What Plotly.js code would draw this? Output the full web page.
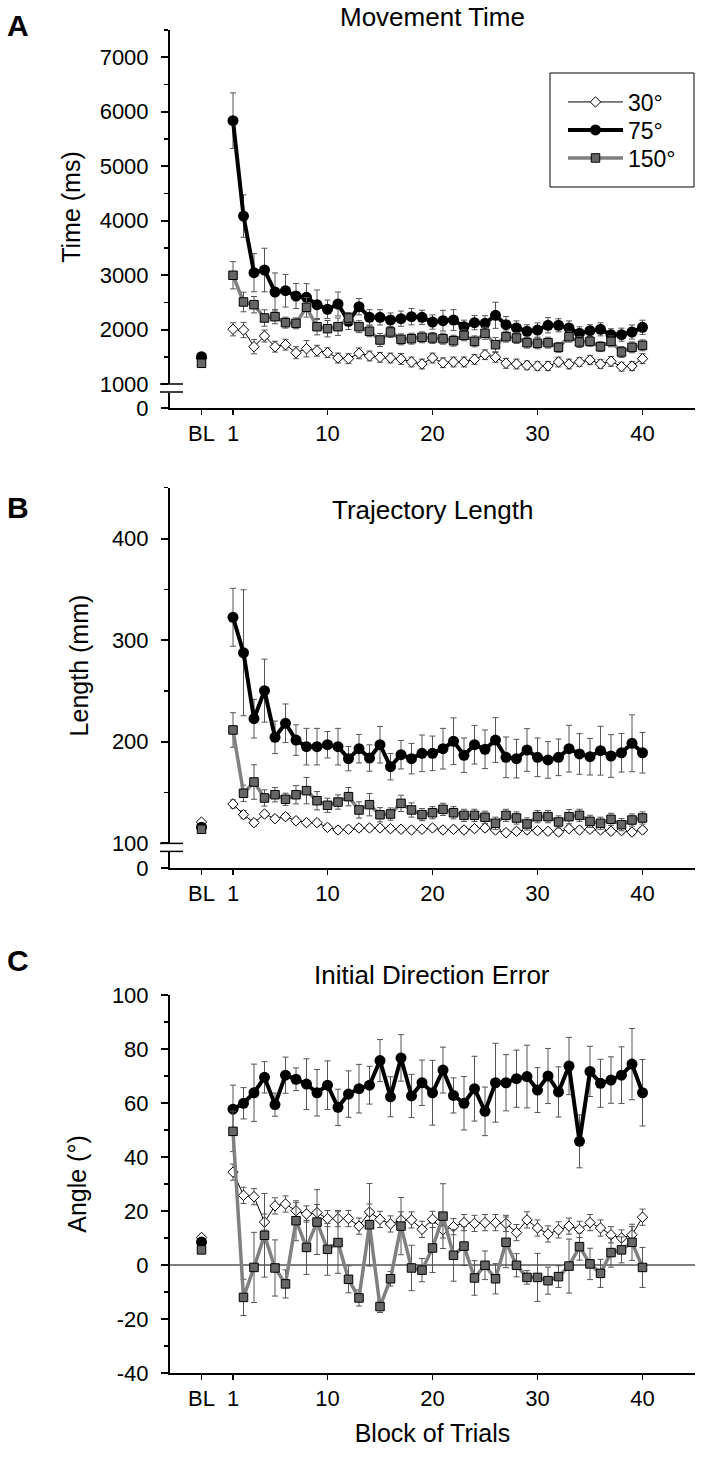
<!DOCTYPE html>
<html>
<head>
<meta charset="utf-8">
<script src="https://cdn.plot.ly/plotly-3.0.1.min.js"></script>
<style>html,body{margin:0;padding:0;background:#fff;}#chart{width:703px;height:1461px;}</style>
</head>
<body>
<div id="chart"></div>
<script>
// ---------------- DATA ----------------
const blocks = [1,2,3,4,5,6,7,8,9,10,11,12,13,14,15,16,17,18,19,20,21,22,23,24,25,26,27,28,29,30,31,32,33,34,35,36,37,38,39,40];
const xTickLabels = ['BL','1','10','20','30','40'];
const seriesNames = ['30°','75°','150°'];
const angleTickLabels = ['-40','-20','0','20','40','60','80','100'];

// Panel A: Movement Time (ms)
const time30 = [2004,1991,1685,1881,1685,1722,1575,1648,1611,1575,1477,1465,1563,1514,1490,1477,1460,1404,1367,1477,1391,1404,1404,1453,1538,1490,1380,1367,1343,1330,1330,1404,1367,1404,1441,1367,1416,1318,1330,1465];
const time30Err = [120,140,130,110,100,100,110,150,100,90,90,90,100,90,90,90,100,90,90,90,90,90,90,90,90,90,90,90,80,80,80,90,90,80,80,80,90,80,80,90];
const time75 = [5835,4084,3044,3093,2689,2713,2616,2592,2456,2371,2469,2151,2420,2224,2224,2175,2200,2236,2224,2138,2163,2175,2052,2126,2114,2261,2090,2028,1968,1991,2078,2078,2028,1931,1979,2004,1905,1905,1955,2041];
const time75Err = [510,390,350,400,350,300,230,250,270,170,220,150,150,140,140,130,140,150,130,130,190,190,120,130,140,240,150,130,120,130,140,120,130,120,110,120,110,120,130,130];
const time150 = [2996,2506,2456,2212,2236,2126,2114,2408,2052,2016,2052,2212,2052,1968,1808,1955,1820,1832,1857,1845,1832,1795,1894,1783,1931,1722,1869,1845,1759,1747,1759,1673,1869,1771,1783,1685,1783,1588,1673,1710];
const time150Err = [250,180,150,150,130,100,100,180,150,150,160,100,110,100,120,100,100,100,100,100,100,100,100,100,110,130,100,100,100,100,100,90,100,100,90,90,100,100,100,100];
const timeBL = [1470,1501,1380];

// Panel B: Trajectory Length (mm)
const len30 = [138.8,128.3,120.4,128.9,124.3,126.3,122.3,120.4,120.4,115.8,113.2,113.9,115.2,115.2,115.2,114.5,113.9,113.2,113.9,115.2,113.2,113.9,113.2,114.5,115.2,113.2,110.6,111.9,113.2,112.5,111.9,111.2,114.5,113.2,113.9,113.2,111.9,112.5,111.2,113.2];
const len30Err = [4,4,3,3,3,3,3,3,3,3,3,3,3,3,3,3,3,3,3,3,3,3,3,3,3,3,3,3,3,3,3,3,3,3,3,3,3,3,3,3];
const len75 = [322.5,287.6,222.7,250.3,204.4,218.2,201.7,195.2,195.2,197.1,195.2,183.4,193.2,184.0,197.1,175.5,187.3,183.4,188.6,188.6,193.2,200.5,186.7,197.1,192.6,201.7,184.7,183.4,191.9,184.7,182.1,184.7,193.2,188.0,185.3,191.2,186.0,189.2,198.5,189.2];
const len75Err = [28.5,62,19,31,16,19,15,18,18,13,18,12,14,13,18,13,14,15,18,17,20,23,17,19,19,22,20,19,21,19,18,18,23,20,18,24,21,19,28,20];
const len150 = [211.6,149.3,160.4,144.7,147.9,143.4,147.9,151.9,142.0,137.5,140.7,146.0,132.9,138.1,128.2,128.9,139.4,132.9,128.3,130.2,133.5,130.2,127.6,127.6,125.7,119.8,127.6,125.0,119.1,126.3,126.3,121.1,126.3,127.6,121.7,119.8,123.7,118.4,123.0,125.0];
const len150Err = [17,8,17,8,7,6,9,13,9,7,7,9,8,11,7,6,8,7,6,6,6,6,6,6,6,6,6,6,6,6,6,6,7,6,6,6,6,6,6,6];
const lenBL = [121,116,113.9];

// Panel C: Initial Direction Error (deg)
const ang30 = [34.4,25.8,25.3,15.9,21.9,22.6,20.1,18.9,19.4,17.2,17.2,17.2,14.4,19.6,16.9,15.2,16.7,16.7,13.2,16.9,13.0,14.2,15.7,15.4,15.7,15.7,15.4,12.0,16.7,13.7,11.5,13.0,14.4,13.2,15.7,13.7,11.2,10.0,11.2,17.7];
const ang30Err = [3,3,3,3,3,3,3,3,3,3,3,3,3,3,3,3,3,3,3,3,3,3,3,3,3,3,3,3,3,3,3,3,3,3,3,3,3,3,3,3];
const ang75 = [57.7,59.9,63.8,69.5,59.4,70.3,68.8,67.0,63.8,66.6,58.4,63.3,65.3,66.6,75.7,62.3,76.7,62.6,67.5,63.8,72.2,62.8,59.9,65.3,56.9,67.5,67.5,69.0,69.8,64.8,70.0,64.1,73.7,45.8,71.7,67.3,68.5,70.3,74.4,63.8];
const ang75Err = [8.9,5.8,10.6,5.8,4.3,6.7,4.2,9.4,8.6,9.0,6.7,8.6,9.0,7.0,7.8,7.4,8.6,8.0,8.4,12,8.5,6.5,9.9,12,9,14.6,10.4,10.6,11.6,8.3,10.2,9.3,10.6,9.8,9.3,8.9,8.6,10.5,13.2,12.3];
const ang150 = [49.5,-12.0,-0.9,11.0,-1.1,-7.0,16.4,6.5,15.9,5.8,8.3,-5.3,-12.2,14.9,-15.4,-5.1,14.4,-1.1,-1.9,6.3,18.1,3.6,7.0,-4.8,-0.1,-5.1,8.4,-0.1,-4.6,-4.6,-5.8,-4.3,-0.4,6.8,0.4,-3.1,4.6,5.6,8.4,-0.9];
const ang150Err = [7.5,6.7,13,15.5,10.4,5.2,7.4,10,12,9.6,11.4,5,3,15.3,2.2,2.7,10.6,8.4,4.3,9.1,12,9.6,7.2,6.4,5.3,5.6,9.4,4.3,2.5,8.9,5,4,10,5,5.8,5.2,5.4,4.8,6.7,7.4];
const angBL = [10.2,8.5,5.6];

// ---------------- LAYOUT HELPERS ----------------
const W = 703, H = 1461;
const fx = p => p / W;
const fy = p => 1 - p / H;
const FONT = 'Arial, "Liberation Sans", sans-serif';
const blX = -2;
const xTickVals = [blX, 1, 10, 20, 30, 40];
const legendIds = ['legend', 'legend2', 'legend3'];

const styles = [
  {line: {color: '#000000', width: 1}, marker: {symbol: 'diamond', size: 8, color: '#ffffff', line: {color: '#000000', width: 1}}},
  {line: {color: '#000000', width: 4}, marker: {symbol: 'circle', size: 11, color: '#000000', line: {width: 0}}},
  {line: {color: '#808080', width: 3.5}, marker: {symbol: 'square', size: 8.5, color: '#666666', line: {color: '#000000', width: 1}}}
];

const traces = [];
function addPanel(xa, ya, vals, errs, bl, legend) {
  for (let i = 0; i < 3; i++) {
    traces.push({
      x: [blX], y: [bl[i]], xaxis: xa, yaxis: ya, type: 'scatter', mode: 'markers',
      marker: styles[i].marker, showlegend: false, hoverinfo: 'skip'
    });
    traces.push({
      x: blocks, y: vals[i], xaxis: xa, yaxis: ya, type: 'scatter', mode: 'lines+markers',
      name: seriesNames[i], showlegend: legend, legend: legendIds[i],
      line: styles[i].line, marker: styles[i].marker,
      error_y: {type: 'data', array: errs[i], visible: true, color: '#555555', thickness: 1, width: 3}
    });
  }
}
addPanel('x', 'y', [time30, time75, time150], [time30Err, time75Err, time150Err], timeBL, true);
addPanel('x2', 'y3', [len30, len75, len150], [len30Err, len75Err, len150Err], lenBL, false);
addPanel('x3', 'y5', [ang30, ang75, ang150], [ang30Err, ang75Err, ang150Err], angBL, false);
// empty traces so that the lower (broken-axis) segments and their x axes get drawn
traces.push({x: [], y: [], xaxis: 'x', yaxis: 'y2', type: 'scatter', mode: 'markers', showlegend: false, hoverinfo: 'skip'});
traces.push({x: [], y: [], xaxis: 'x2', yaxis: 'y4', type: 'scatter', mode: 'markers', showlegend: false, hoverinfo: 'skip'});

const xDomain = [fx(170), fx(695)];
const tickFont = {family: FONT, size: 22, color: '#000'};
const axTitleFont = {family: FONT, size: 25, color: '#000'};

function xAxis(anchor, title) {
  const a = {
    domain: xDomain, range: [-5, 45], anchor: anchor,
    tickmode: 'array', tickvals: xTickVals, ticktext: xTickLabels,
    showline: true, linecolor: '#000', linewidth: 1.5, mirror: false,
    ticks: 'outside', ticklen: 5, tickwidth: 1.5, tickcolor: '#000',
    showgrid: false, zeroline: false, tickfont: tickFont, ticklabelstandoff: 0,
    fixedrange: true
  };
  if (title) a.title = {text: title, font: axTitleFont, standoff: 14};
  return a;
}
function yUpper(anchor, domPx, range, tickvals, minorDtick, title, standoff) {
  return {
    domain: [fy(domPx[0]), fy(domPx[1])], range: range, anchor: anchor,
    tickmode: 'array', tickvals: tickvals,
    showline: true, linecolor: '#000', linewidth: 2,
    ticks: 'outside', ticklen: 7, tickwidth: 2, tickcolor: '#000',
    minor: {dtick: minorDtick, tick0: 0, ticks: 'outside', ticklen: 4, tickwidth: 1.5, tickcolor: '#000', showgrid: false},
    showgrid: false, zeroline: false, tickfont: tickFont, ticklabelstandoff: 8,
    title: {text: title, font: axTitleFont, standoff: standoff},
    fixedrange: true
  };
}
function yLower(anchor, domPx, range) {
  return {
    domain: [fy(domPx[0]), fy(domPx[1])], range: range, anchor: anchor,
    tickmode: 'array', tickvals: [0],
    showline: true, linecolor: '#000', linewidth: 2,
    ticks: 'outside', ticklen: 7, tickwidth: 2, tickcolor: '#000',
    showgrid: false, zeroline: false, tickfont: tickFont, ticklabelstandoff: 8,
    fixedrange: true
  };
}
function legendAt(yPx) {
  return {
    x: fx(563), y: fy(yPx), xanchor: 'left', yanchor: 'middle',
    bgcolor: 'rgba(0,0,0,0)', borderwidth: 0,
    font: {family: FONT, size: 23, color: '#000'},
    itemwidth: 55, tracegroupgap: 0
  };
}

const yAngle = yUpper('x3', [1373, 995], [-40, 100], [-40, -20, 0, 20, 40, 60, 80, 100], 10, 'Angle (°)', 18);
yAngle.ticktext = angleTickLabels;
yAngle.zeroline = true;
yAngle.zerolinecolor = '#7f7f7f';
yAngle.zerolinewidth = 1.5;

const layout = {
  width: W, height: H,
  margin: {l: 0, r: 0, t: 0, b: 0, autoexpand: false},
  paper_bgcolor: '#ffffff', plot_bgcolor: 'rgba(0,0,0,0)',
  font: {family: FONT, color: '#000'},
  showlegend: true,
  legend: legendAt(102),
  legend2: legendAt(130),
  legend3: legendAt(158),
  xaxis: xAxis('y2'),
  yaxis: yUpper('x', [384, 30], [1000, 7500], [1000, 2000, 3000, 4000, 5000, 6000, 7000], 500, 'Time (ms)', 12),
  yaxis2: yLower('x', [408, 393], [0, 100]),
  xaxis2: xAxis('y4'),
  yaxis3: yUpper('x2', [843.4, 487.7], [100, 450], [100, 200, 300, 400], 50, 'Length (mm)', 16),
  yaxis4: yLower('x2', [868, 852.4], [0, 100]),
  xaxis3: xAxis('y5', 'Block of Trials'),
  yaxis5: yAngle,
  shapes: [
    // legend frame
    {type: 'rect', xref: 'paper', yref: 'paper', x0: fx(550), x1: fx(694), y0: fy(187), y1: fy(73), line: {color: '#000', width: 1}, fillcolor: 'rgba(0,0,0,0)'},
    // axis break marks
    {type: 'line', xref: 'paper', yref: 'paper', x0: fx(160), x1: fx(183), y0: fy(384), y1: fy(384), line: {color: '#000', width: 1.5}},
    {type: 'line', xref: 'paper', yref: 'paper', x0: fx(160), x1: fx(183), y0: fy(392), y1: fy(392), line: {color: '#000', width: 1.5}},
    {type: 'line', xref: 'paper', yref: 'paper', x0: fx(160), x1: fx(183), y0: fy(843.4), y1: fy(843.4), line: {color: '#000', width: 1.5}},
    {type: 'line', xref: 'paper', yref: 'paper', x0: fx(160), x1: fx(183), y0: fy(851.4), y1: fy(851.4), line: {color: '#000', width: 1.5}}
  ],
  annotations: [
    {text: '<b>A</b>', xref: 'paper', yref: 'paper', x: fx(18), y: fy(25), showarrow: false, font: {family: FONT, size: 30}, xanchor: 'center', yanchor: 'middle'},
    {text: '<b>B</b>', xref: 'paper', yref: 'paper', x: fx(18), y: fy(507), showarrow: false, font: {family: FONT, size: 30}, xanchor: 'center', yanchor: 'middle'},
    {text: '<b>C</b>', xref: 'paper', yref: 'paper', x: fx(18), y: fy(960), showarrow: false, font: {family: FONT, size: 30}, xanchor: 'center', yanchor: 'middle'},
    {text: 'Movement Time', xref: 'paper', yref: 'paper', x: fx(432), y: fy(17), showarrow: false, font: {family: FONT, size: 26}, xanchor: 'center', yanchor: 'middle'},
    {text: 'Trajectory Length', xref: 'paper', yref: 'paper', x: fx(433), y: fy(510), showarrow: false, font: {family: FONT, size: 26}, xanchor: 'center', yanchor: 'middle'},
    {text: 'Initial Direction Error', xref: 'paper', yref: 'paper', x: fx(432), y: fy(975), showarrow: false, font: {family: FONT, size: 26}, xanchor: 'center', yanchor: 'middle'}
  ]
};

Plotly.newPlot('chart', traces, layout, {staticPlot: true, displayModeBar: false});
</script>
</body>
</html>
